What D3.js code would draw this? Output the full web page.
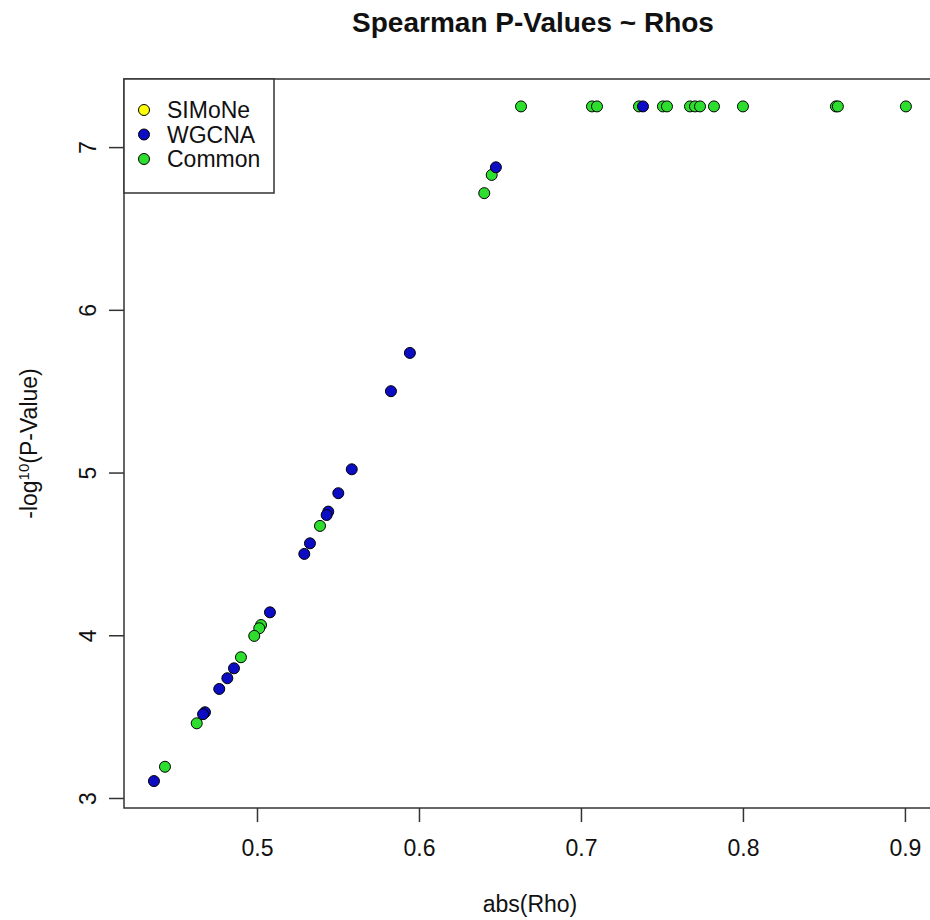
<!DOCTYPE html>
<html>
<head>
<meta charset="utf-8">
<script src="https://cdn.jsdelivr.net/npm/d3@7"></script>
<style>
  html, body { margin: 0; padding: 0; background: #fff; }
  svg { display: block; }
  text { font-family: "Liberation Sans", Arial, Helvetica, sans-serif; fill: #111; }
</style>
</head>
<body>
<svg id="chart" width="930" height="920"></svg>
<script>
// ---- data ----
const simoneRho = [];
const simoneLogP = [];

const wgcnaRho  = [0.7383, 0.6475, 0.5944, 0.5827, 0.5585, 0.5502, 0.5440, 0.5430, 0.5327, 0.5292, 0.5080, 0.4858, 0.4817, 0.4767, 0.4679, 0.4667, 0.4364];
const wgcnaLogP = [7.25,   6.876,  5.735,  5.50,   5.020,  4.873,  4.760,  4.739,  4.565,  4.500,  4.141,  3.797,  3.736,  3.670,  3.527,  3.515,  3.104];

const commonRho  = [0.663, 0.7068, 0.7099, 0.7358, 0.7506, 0.7531, 0.7673, 0.7704, 0.7735, 0.7821, 0.8000, 0.8574, 0.8586, 0.9006,
                    0.6449, 0.6403, 0.5389, 0.5025, 0.5014, 0.4983, 0.4901, 0.4628, 0.4432];
const commonLogP = [7.25, 7.25, 7.25, 7.25, 7.25, 7.25, 7.25, 7.25, 7.25, 7.25, 7.25, 7.25, 7.25, 7.25,
                    6.829, 6.717, 4.672, 4.063, 4.043, 3.996, 3.865, 3.459, 3.192];

const xTicks = [0.5, 0.6, 0.7, 0.8, 0.9];
const yTicks = [3, 4, 5, 6, 7];
const legendLabels = ["SIMoNe", "WGCNA", "Common"];
const seriesColors = ["#ffff00", "#0c0cc4", "#2ede2e"];

// ---- layout ----
const svg = d3.select("#chart");
const plot = { left: 124, right: 937, top: 79, bottom: 808 };
const FS = 23;

const x = d3.scaleLinear().domain([0.4179, 0.9198]).range([plot.left, plot.right]);
const y = d3.scaleLinear().domain([2.9385, 7.4185]).range([plot.bottom, plot.top]);

svg.append("rect").attr("width", 930).attr("height", 920).attr("fill", "#fff");

// title
svg.append("text")
  .attr("x", 533).attr("y", 32)
  .attr("text-anchor", "middle")
  .attr("font-weight", "bold")
  .attr("font-size", 28)
  .text("Spearman P-Values ~ Rhos");

// axes
const xAxis = d3.axisBottom(x).tickValues(xTicks).tickSize(14).tickPadding(18).tickFormat(d3.format(".1f"));
const gx = svg.append("g").attr("transform", `translate(0,${plot.bottom})`).call(xAxis);
gx.select(".domain").remove();
gx.selectAll("line").attr("stroke", "#333").attr("stroke-width", 1.5);
gx.selectAll("text").attr("font-size", FS).attr("fill", "#111")
  .attr("font-family", "'Liberation Sans', Arial, sans-serif");

const yAxis = d3.axisLeft(y).tickValues(yTicks).tickSize(15).tickPadding(0).tickFormat(d3.format("d"));
const gy = svg.append("g").attr("transform", `translate(${plot.left},0)`).call(yAxis);
gy.select(".domain").remove();
gy.selectAll("line").attr("stroke", "#333").attr("stroke-width", 1.5);
gy.selectAll("text")
  .attr("font-size", FS).attr("fill", "#111")
  .attr("font-family", "'Liberation Sans', Arial, sans-serif")
  .attr("text-anchor", "middle")
  .attr("x", 0).attr("dy", 0)
  .attr("transform", "translate(-28,0) rotate(-90)");

// axis titles
svg.append("text")
  .attr("x", 530).attr("y", 912)
  .attr("text-anchor", "middle")
  .attr("font-size", FS)
  .text("abs(Rho)");

const yt = svg.append("text")
  .attr("transform", `translate(37,${(plot.top + plot.bottom) / 2}) rotate(-90)`)
  .attr("text-anchor", "middle")
  .attr("font-size", FS);
yt.append("tspan").text("-log");
yt.append("tspan").attr("font-size", 15).attr("dy", -8).text("10");
yt.append("tspan").attr("dy", 8).text("(P-Value)");

// points
const drawSeries = (rho, lp, color) => {
  svg.append("g").selectAll("circle")
    .data(rho.map((r, i) => [r, lp[i]]))
    .join("circle")
    .attr("cx", d => x(d[0]))
    .attr("cy", d => y(d[1]))
    .attr("r", 5.5)
    .attr("fill", color)
    .attr("stroke", "#000")
    .attr("stroke-width", 1);
};
drawSeries(simoneRho, simoneLogP, seriesColors[0]);
drawSeries(commonRho, commonLogP, seriesColors[2]);
drawSeries(wgcnaRho, wgcnaLogP, seriesColors[1]);

// plot box
svg.append("rect")
  .attr("x", plot.left).attr("y", plot.top)
  .attr("width", plot.right - plot.left).attr("height", plot.bottom - plot.top)
  .attr("fill", "none").attr("stroke", "#333").attr("stroke-width", 1.5);

// legend
const leg = svg.append("g");
leg.append("rect")
  .attr("x", plot.left).attr("y", plot.top)
  .attr("width", 150).attr("height", 114)
  .attr("fill", "#fff").attr("stroke", "#333").attr("stroke-width", 1.5);
legendLabels.forEach((lab, i) => {
  const cy = 110 + i * 24.5;
  leg.append("circle").attr("cx", 144).attr("cy", cy).attr("r", 5.5)
    .attr("fill", seriesColors[i]).attr("stroke", "#000").attr("stroke-width", 1);
  leg.append("text").attr("x", 167).attr("y", cy + 8).attr("font-size", FS).text(lab);
});
</script>
</body>
</html>
